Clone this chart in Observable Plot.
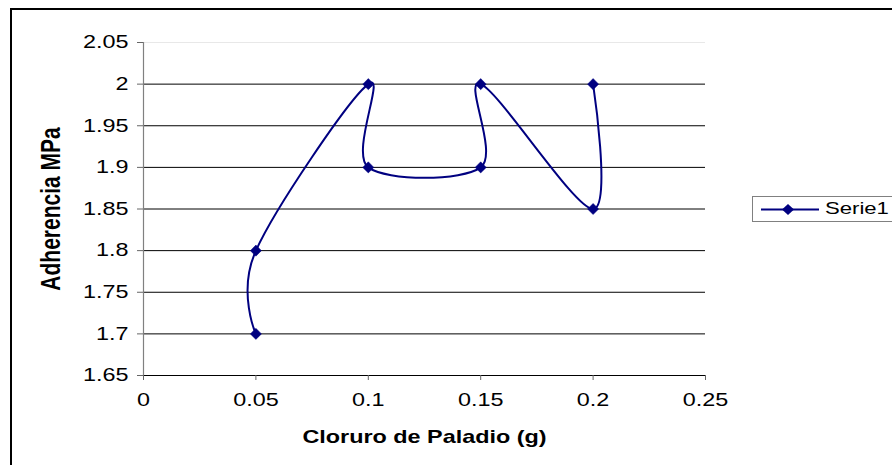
<!DOCTYPE html>
<html>
<head>
<meta charset="utf-8">
<script src="https://cdn.jsdelivr.net/npm/d3@7"></script>
<script src="https://cdn.jsdelivr.net/npm/@observablehq/plot@0.6"></script>
<style>
  html, body { margin: 0; padding: 0; background: #fff; overflow: hidden; }
  #wrap { position: relative; width: 892px; height: 465px; overflow: hidden; font-family: "Liberation Sans", Arial, sans-serif; }
  #chart { position: absolute; left: 0; top: 0; }
  #border { position: absolute; left: 10px; top: 8px; width: 1000px; height: 1000px; border: 2px solid #000; box-sizing: border-box; }
  #legend { position: absolute; left: 752px; top: 196px; width: 200px; height: 26px; border: 1px solid #808080; background: #fff; box-sizing: border-box; }
  #legend svg { position: absolute; left: 0; top: 0; }
  #legend span { position: absolute; left: 72px; top: 3px; font-size: 17px; line-height: 17px; color: #000; transform: scaleX(1.3); transform-origin: left center; white-space: nowrap; }
</style>
</head>
<body>
<div id="wrap">
  <div id="border"></div>
  <div id="chart"></div>
  <div id="legend"></div>
</div>
<script>
// ---- data ----
const seriesName = "Serie1";
const xValues = [0.05, 0.05, 0.1, 0.1, 0.15, 0.15, 0.2, 0.2];
const yValues = [1.7, 1.8, 2.0, 1.9, 1.9, 2.0, 1.85, 2.0];
const xTicks = [0, 0.05, 0.1, 0.15, 0.2, 0.25];
const yTicks = [1.65, 1.7, 1.75, 1.8, 1.85, 1.9, 1.95, 2.0, 2.05];
const xTitle = "Cloruro de Paladio (g)";
const yTitle = "Adherencia MPa";

const data = xValues.map((x, i) => ({ x, y: yValues[i] }));
const fmt = d => String(+d.toFixed(2));
const navy = "#000080";
const yGrid = yTicks.slice(1, -1);

const plot = Plot.plot({
  width: 892,
  height: 465,
  marginLeft: 143,
  marginRight: 187,
  marginTop: 42,
  marginBottom: 90,
  style: { fontFamily: "'Liberation Sans', Arial, sans-serif", background: "transparent", overflow: "visible" },
  x: { domain: [0, 0.25] },
  y: { domain: [1.65, 2.05] },
  marks: [
    Plot.ruleY(yGrid, { stroke: "#000", strokeWidth: 1 }),
    Plot.ruleY([yTicks[yTicks.length - 1]], { stroke: "#e8e8e8", strokeWidth: 1 }),
    Plot.ruleY([yTicks[0]], { stroke: "#000", strokeWidth: 1.2 }),
    Plot.ruleX([xTicks[0]], { stroke: "#808080", strokeWidth: 1.2 }),
    Plot.axisY({ ticks: yTicks, tickFormat: fmt, tickSize: 6, tickPadding: 9, fontSize: 18, stroke: "#666", color: "#000", label: null }),
    Plot.axisX({ ticks: xTicks, tickFormat: fmt, tickSize: 5, tickPadding: 13, fontSize: 18, stroke: "#666", color: "#000", label: null }),
    Plot.line(data, { x: "x", y: "y", curve: "cardinal", stroke: navy, strokeWidth: 2 }),
    Plot.dot(data, { x: "x", y: "y", symbol: "diamond2", fill: navy, stroke: navy, strokeWidth: 0.5, r: 5 }),
    Plot.text([xTitle], { frameAnchor: "bottom", dy: 62, text: d => d, fontSize: 18, fontWeight: "bold", fill: "#000", textAnchor: "middle", lineAnchor: "middle" }),
    Plot.text([yTitle], { frameAnchor: "left", dx: -92, text: d => d, rotate: -90, fontSize: 21, fontWeight: "bold", fill: "#000", textAnchor: "middle", lineAnchor: "middle" })
  ]
});
document.getElementById("chart").appendChild(plot);

// widen text horizontally (screen space), like the reference
const S = 1.3;
plot.querySelectorAll("text").forEach(t => {
  const b = t.getBBox();
  const tr = t.getAttribute("transform") || "";
  const rotated = /rotate/.test(tr);
  let extra;
  if (rotated) {
    const cy = b.y + b.height / 2;
    extra = `translate(0,${cy}) scale(1,${S}) translate(0,${-cy})`;
  } else {
    const anchor = getComputedStyle(t).textAnchor;
    const ax = anchor === "end" ? b.x + b.width : anchor === "middle" ? b.x + b.width / 2 : b.x;
    extra = `translate(${ax},0) scale(${S},1) translate(${-ax},0)`;
  }
  t.setAttribute("transform", (tr ? tr + " " : "") + extra);
});

// legend
const lg = document.getElementById("legend");
const ls = d3.select(lg).append("svg").attr("width", 70).attr("height", 24);
ls.append("line").attr("x1", 8).attr("x2", 66).attr("y1", 12.5).attr("y2", 12.5).attr("stroke", navy).attr("stroke-width", 2);
ls.append("path").attr("d", "M35,7 L41,12.5 L35,18 L29,12.5 Z").attr("fill", navy);
const sp = document.createElement("span");
sp.textContent = seriesName;
lg.appendChild(sp);
</script>
</body>
</html>
